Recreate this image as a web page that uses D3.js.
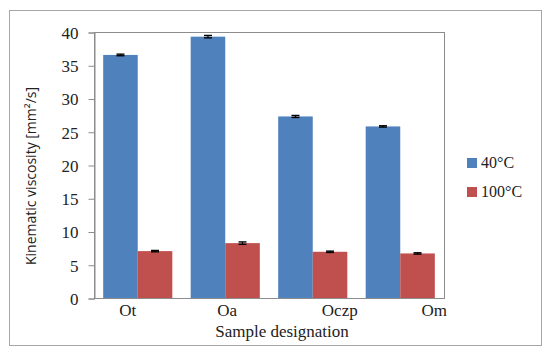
<!DOCTYPE html>
<html>
<head>
<meta charset="utf-8">
<script src="https://cdn.jsdelivr.net/npm/d3@7"></script>
<style>
  body { margin: 0; background: #fff; }
  .tick text, .cat, .leg { font-family: "Liberation Serif", serif; fill: #222; }
</style>
</head>
<body>
<div id="chart"></div>
<script>
//////////////// DATA ////////////////

var samples = ["Ot", "Oa", "Oczp", "Om"],
    seriesNames = ["40°C", "100°C"],
    visc40 = [36.55, 39.3, 27.3, 25.8],
    visc100 = [7.05, 8.25, 6.95, 6.7],
    err40 = [0.12, 0.18, 0.15, 0.1],
    err100 = [0.1, 0.18, 0.1, 0.1],
    yTicks = [0, 5, 10, 15, 20, 25, 30, 35, 40];

//////////////// LAYOUT ////////////////

var w = 550, h = 354,
    plot = {left: 94, right: 444, top: 32, bottom: 298},
    colors = ["#4F81BD", "#C0504D"],
    // the category labels sit a bit off their groups in the original
    labelNudge = [-10, 2, 27, 34];

var svg = d3.select("#chart").append("svg")
    .attr("width", w)
    .attr("height", h);

// outer frame
svg.append("rect")
    .attr("x", 9.5).attr("y", 10.5)
    .attr("width", 532).attr("height", 335)
    .attr("fill", "none")
    .attr("stroke", "#a6a6a6");

// Scales
var xScale = d3.scaleBand()
    .domain(samples)
    .range([plot.left, plot.right])
    .paddingInner(0.21)
    .paddingOuter(0.105);

var xSub = d3.scaleBand()
    .domain(seriesNames)
    .range([0, xScale.bandwidth()]);

var yScale = d3.scaleLinear()
    .domain([0, 40])
    .range([plot.bottom, plot.top]);

// plot area border
svg.append("rect")
    .attr("x", plot.left + 0.5).attr("y", plot.top + 0.5)
    .attr("width", plot.right - plot.left).attr("height", plot.bottom - plot.top)
    .attr("fill", "none")
    .attr("stroke", "#8c8c8c");

// Y axis
var yAxis = d3.axisLeft(yScale).tickValues(yTicks).tickSize(6).tickPadding(10);
var yG = svg.append("g")
    .attr("transform", "translate(" + (plot.left + 0.5) + ",0.5)")
    .call(yAxis);
yG.select(".domain").attr("stroke", "#8c8c8c");
yG.selectAll(".tick line").attr("stroke", "#8c8c8c");
yG.selectAll(".tick text").attr("font-size", 17).attr("dy", "0.34em");

// Bars
var rows = samples.map(function(s, i) {
    return [
        {sample: s, series: seriesNames[0], v: visc40[i], e: err40[i], k: 0},
        {sample: s, series: seriesNames[1], v: visc100[i], e: err100[i], k: 1}
    ];
});
var flat = [].concat.apply([], rows);

svg.selectAll("rect.bar")
    .data(flat)
    .enter()
    .append("rect")
    .attr("class", "bar")
    .attr("x", function(d) { return xScale(d.sample) + xSub(d.series); })
    .attr("width", xSub.bandwidth())
    .attr("y", function(d) { return yScale(d.v); })
    .attr("height", function(d) { return yScale(0) - yScale(d.v); })
    .attr("fill", function(d) { return colors[d.k]; });

// Error bars
var eb = svg.selectAll("g.err")
    .data(flat)
    .enter()
    .append("g")
    .attr("class", "err")
    .attr("transform", function(d) {
        return "translate(" + (xScale(d.sample) + xSub(d.series) + xSub.bandwidth() / 2) + ",0)";
    });
eb.append("line")
    .attr("y1", function(d) { return yScale(d.v - d.e); })
    .attr("y2", function(d) { return yScale(d.v + d.e); })
    .attr("stroke", "#000").attr("stroke-width", 1.2);
eb.selectAll("line.cap")
    .data(function(d) { return [d.v - d.e, d.v + d.e]; })
    .enter()
    .append("line")
    .attr("class", "cap")
    .attr("x1", -4).attr("x2", 4)
    .attr("y1", function(v) { return yScale(v); })
    .attr("y2", function(v) { return yScale(v); })
    .attr("stroke", "#000").attr("stroke-width", 1.4);

// Category labels
svg.selectAll("text.cat")
    .data(samples)
    .enter()
    .append("text")
    .attr("class", "cat")
    .attr("x", function(d, i) { return xScale(d) + xScale.bandwidth() / 2 + labelNudge[i]; })
    .attr("y", 316)
    .attr("text-anchor", "middle")
    .attr("font-size", 17)
    .text(function(d) { return d; });

// Axis titles
svg.append("text")
    .attr("class", "cat")
    .attr("x", 282)
    .attr("y", 337)
    .attr("text-anchor", "middle")
    .attr("font-size", 17)
    .text("Sample designation");

svg.append("text")
    .attr("transform", "translate(36,176) rotate(-90)")
    .attr("text-anchor", "middle")
    .attr("font-family", "'Open Sans', sans-serif")
    .attr("font-size", 14)
    .attr("fill", "#222")
    .text("Kinematic viscosity [mm²/s]");

// Legend
var leg = svg.selectAll("g.legend")
    .data(seriesNames)
    .enter()
    .append("g")
    .attr("class", "legend")
    .attr("transform", function(d, i) { return "translate(467," + (158 + i * 29) + ")"; });
leg.append("rect")
    .attr("width", 10).attr("height", 10)
    .attr("fill", function(d, i) { return colors[i]; });
leg.append("text")
    .attr("class", "leg")
    .attr("x", 14)
    .attr("y", 10)
    .attr("font-size", 16)
    .text(function(d) { return d; });
</script>
</body>
</html>
